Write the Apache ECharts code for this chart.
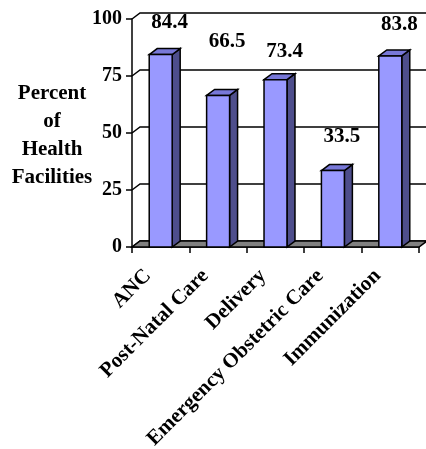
<!DOCTYPE html>
<html>
<head>
<meta charset="utf-8">
<script src="https://cdn.jsdelivr.net/npm/echarts@6/dist/echarts.min.js"></script>
<style>
  html, body { margin: 0; padding: 0; background: #fff; }
  #chart { width: 426px; height: 449px; }
</style>
</head>
<body>
<div id="chart"></div>
<script>
// Services offered, share of facilities (%)
const categories = ['ANC', 'Post-Natal Care', 'Delivery', 'Emergency Obstetric Care', 'Immunization'];
const percentValues = [84.4, 66.5, 73.4, 33.5, 83.8];
const yTicks = [0, 25, 50, 75, 100];

// Look of the pseudo-3D columns
const FONT = '"Liberation Serif", "Times New Roman", serif';
const DEPTH_X = 8;      // depth offset to the back plane
const DEPTH_Y = -6;
const labelLift = [32, 54, 28, 34, 31]; // value label height above each column top
const FRONT = '#9999FF', SIDE = '#4E4E8C', TOP = '#7878D8', FLOOR = '#808080';

const chart = echarts.init(document.getElementById('chart'), null, { renderer: 'canvas' });

// Back wall gridlines (with their diagonal links to the front axis) and the grey floor
function renderBackdrop(params, api) {
  const cs = params.coordSys;
  const x0 = cs.x, x1 = cs.x + cs.width;
  const children = yTicks.map(function (v) {
    const y = api.coord([0, v])[1];
    return {
      type: 'polyline',
      shape: { points: [[x0, y], [x0 + DEPTH_X, y + DEPTH_Y], [426, y + DEPTH_Y]] },
      style: { stroke: '#000', lineWidth: 1.5, fill: 'none' }
    };
  });
  const yb = api.coord([0, 0])[1];
  children.push({
    type: 'polygon',
    shape: { points: [[x0, yb], [x0 + DEPTH_X, yb + DEPTH_Y], [x1 + DEPTH_X, yb + DEPTH_Y], [x1, yb]] },
    style: { fill: FLOOR, stroke: '#000', lineWidth: 1.5 }
  });
  return { type: 'group', children: children };
}

function renderColumn(params, api) {
  const i = api.value(0);
  const v = api.value(1);
  const top = api.coord([i, v]);
  const base = api.coord([i, 0]);
  const w = api.size([1, 0])[0] * 0.4;
  const xl = top[0] - w / 2, xr = top[0] + w / 2;
  const yt = top[1], yb = base[1];
  const line = { stroke: '#000', lineWidth: 1.5, lineJoin: 'miter' };
  return {
    type: 'group',
    children: [
      {
        type: 'polygon',
        shape: { points: [[xr, yt], [xr + DEPTH_X, yt + DEPTH_Y], [xr + DEPTH_X, yb + DEPTH_Y], [xr, yb]] },
        style: Object.assign({ fill: SIDE }, line)
      },
      {
        type: 'polygon',
        shape: { points: [[xl, yt], [xl + DEPTH_X, yt + DEPTH_Y], [xr + DEPTH_X, yt + DEPTH_Y], [xr, yt]] },
        style: Object.assign({ fill: TOP }, line)
      },
      {
        type: 'rect',
        shape: { x: xl, y: yt, width: w, height: yb - yt },
        style: Object.assign({ fill: FRONT }, line)
      },
      {
        type: 'text',
        x: top[0] + 9,
        y: yt - labelLift[params.dataIndex],
        style: {
          text: v.toFixed(1),
          fill: '#000',
          font: 'bold 21px ' + FONT,
          align: 'center',
          verticalAlign: 'middle'
        }
      }
    ]
  };
}

chart.setOption({
  animation: false,
  backgroundColor: '#fff',
  grid: { left: 132, right: 7, top: 19, bottom: 202, containLabel: false, outerBoundsMode: 'none' },
  xAxis: {
    type: 'category',
    data: categories,
    boundaryGap: true,
    axisLine: { show: true, lineStyle: { color: '#000', width: 1.5 } },
    axisTick: { show: true, length: 6, lineStyle: { color: '#000', width: 1.5 } },
    axisLabel: {
      rotate: 45,
      interval: 0,
      margin: 13,
      padding: [0, 18, 0, 0],
      color: '#000',
      fontFamily: FONT,
      fontWeight: 'bold',
      fontSize: 21
    },
    splitLine: { show: false }
  },
  yAxis: {
    type: 'value',
    min: 0,
    max: 100,
    interval: 25,
    axisLine: { show: true, lineStyle: { color: '#000', width: 1.5 } },
    axisTick: { show: true, length: 6, lineStyle: { color: '#000', width: 1.5 } },
    axisLabel: {
      margin: 10,
      color: '#000',
      fontFamily: FONT,
      fontWeight: 'bold',
      fontSize: 20
    },
    splitLine: { show: false }
  },
  graphic: [{
    type: 'text',
    x: 52,
    y: 80,
    style: {
      text: 'Percent\nof\nHealth\nFacilities',
      font: 'bold 21px ' + FONT,
      fill: '#000',
      align: 'center',
      lineHeight: 28
    }
  }],
  series: [
    {
      type: 'custom',
      name: 'backdrop',
      renderItem: renderBackdrop,
      data: [[0, 0]],
      encode: { x: 0, y: 1 },
      z: 1,
      silent: true,
      clip: false
    },
    {
      type: 'custom',
      name: 'Percent of Health Facilities',
      renderItem: renderColumn,
      data: percentValues.map((v, i) => [i, v]),
      encode: { x: 0, y: 1 },
      z: 3,
      clip: false
    }
  ]
});
</script>
</body>
</html>
